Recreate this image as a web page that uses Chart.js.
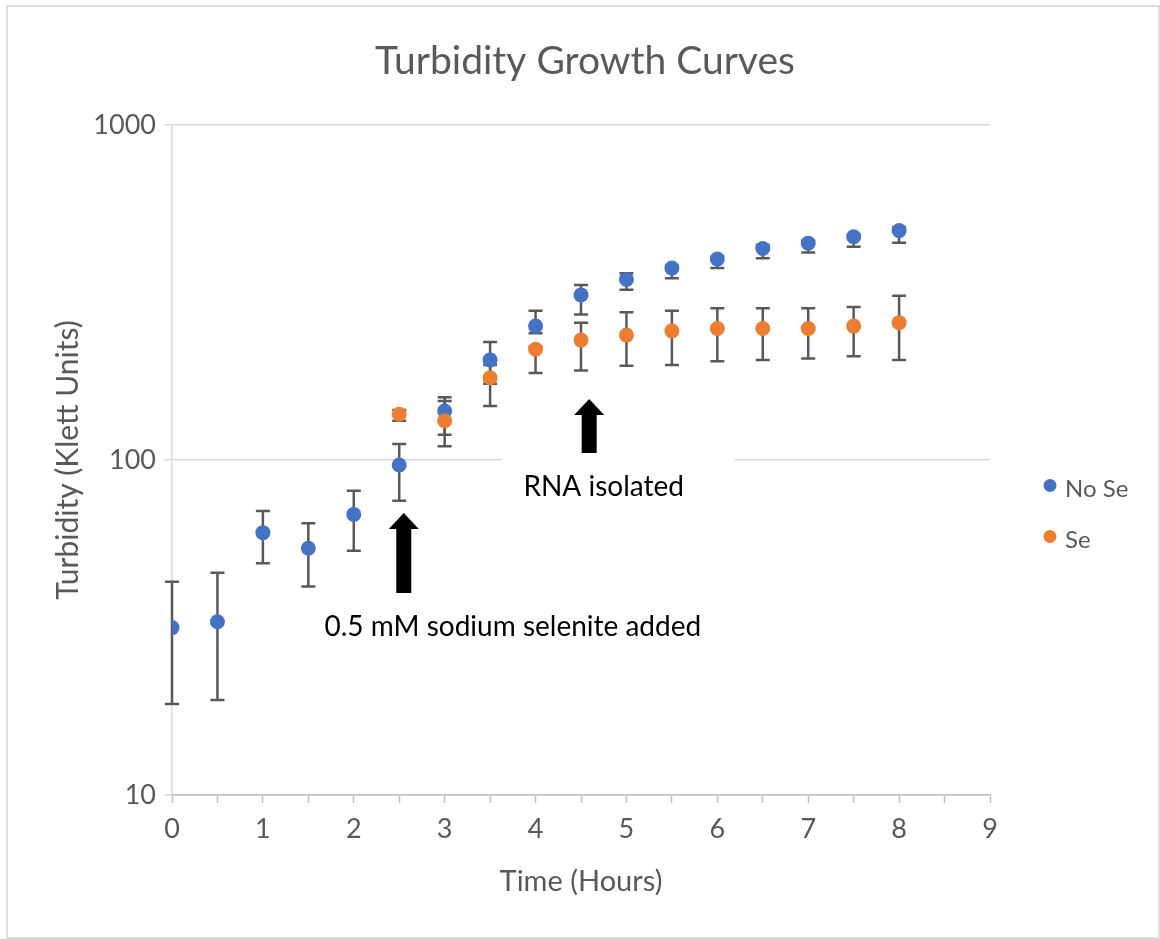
<!DOCTYPE html>
<html>
<head>
<meta charset="utf-8">
<script src="https://cdn.jsdelivr.net/npm/chart.js@4.4.1/dist/chart.umd.min.js"></script>
<style>
  html, body { margin: 0; padding: 0; background: #ffffff; }
  #wrap { position: relative; width: 1160px; height: 939px; }
  canvas { display: block; }
</style>
</head>
<body>
<div id="wrap"><canvas id="c" width="1160" height="939"></canvas></div>
<script>
// ---- data ----
const timesNoSe = [0, 0.5, 1, 1.5, 2, 2.5, 3, 3.5, 4, 4.5, 5, 5.5, 6, 6.5, 7, 7.5, 8];
const noSe      = [31.6, 32.9, 60.7, 54.5, 68.8, 96.6, 140, 199, 251, 311, 346, 374, 398, 428, 444, 464, 484];
const noSeHigh  = [43.3, 46.1, 70.4, 64.7, 81.0, 111.6, 154, 225, 279, 333, 361, 380, 405, 438, 451, 470, 495];
const noSeLow   = [18.7, 19.2, 49.2, 41.9, 53.6, 75.6, 119, 169, 239, 272, 322, 349, 374, 400, 416, 433, 445];

const timesSe = [2.5, 3, 3.5, 4, 4.5, 5, 5.5, 6, 6.5, 7, 7.5, 8];
const se      = [137, 131, 176, 214, 228, 236, 243, 247, 247, 247, 251, 257];
const seHigh  = [141, 150, 192, 218, 257, 276, 279, 284, 284, 284, 286, 309];
const seLow   = [131, 110, 145, 182, 185, 191, 192, 197, 199, 201, 204, 199];

const seriesNames = ['No Se', 'Se'];
const chartTitle = 'Turbidity Growth Curves';
const yTickValues = [10, 100, 1000];
const xTickLabels = ['0', '1', '2', '3', '4', '5', '6', '7', '8', '9'];

// annotations (in data units)
const arrowX    = [2.55, 4.59];
const arrowTip  = [69.5, 152];
const arrowBase = [40.1, 105];
const noteText  = ['0.5 mM sodium selenite added', 'RNA isolated'];
const noteX     = [3.75, 4.75];
const noteY     = [31.7, 83.2];
const labelBoxX = [3.63, 6.19];
const labelBoxY = [70, 103.5];

const FONT = 'Lato, "Open Sans", sans-serif';
const GREY_TEXT = '#595959';

function toPoints(xs, ys) { return xs.map((x, i) => ({ x: x, y: ys[i] })); }

const frame = {
  id: 'frame',
  beforeDraw(chart) {
    const ctx = chart.ctx;
    ctx.save();
    ctx.fillStyle = '#ffffff';
    ctx.fillRect(0, 0, chart.width, chart.height);
    ctx.strokeStyle = '#dedede';
    ctx.lineWidth = 2;
    ctx.strokeRect(7, 6, chart.width - 8, chart.height - 7);
    // chart title, centred on the whole chart
    ctx.fillStyle = GREY_TEXT;
    ctx.font = '39px ' + FONT;
    ctx.textAlign = 'center';
    ctx.textBaseline = 'middle';
    ctx.fillText(chartTitle, chart.width / 2 + 5, 61);
    ctx.restore();
  }
};

const errorBars = {
  id: 'errorBars',
  beforeDatasetsDraw(chart) {
    const ctx = chart.ctx;
    const xs = chart.scales.x, ys = chart.scales.y;
    // white box behind the "RNA isolated" label (hides gridline)
    ctx.save();
    ctx.fillStyle = '#ffffff';
    const bx0 = xs.getPixelForValue(labelBoxX[0]), bx1 = xs.getPixelForValue(labelBoxX[1]);
    const by0 = ys.getPixelForValue(labelBoxY[1]), by1 = ys.getPixelForValue(labelBoxY[0]);
    ctx.fillRect(bx0, by0, bx1 - bx0, by1 - by0);
    ctx.restore();

    ctx.save();
    ctx.strokeStyle = '#595959';
    ctx.lineWidth = 2.5;
    ctx.lineCap = 'butt';
    const cap = 7;
    chart.data.datasets.forEach((ds) => {
      ds.data.forEach((p, j) => {
        const x = xs.getPixelForValue(p.x);
        const yh = ys.getPixelForValue(ds.errHigh[j]);
        const yl = ys.getPixelForValue(ds.errLow[j]);
        ctx.beginPath();
        ctx.moveTo(x, yh); ctx.lineTo(x, yl);
        ctx.moveTo(x - cap, yh); ctx.lineTo(x + cap, yh);
        ctx.moveTo(x - cap, yl); ctx.lineTo(x + cap, yl);
        ctx.stroke();
      });
    });
    ctx.restore();
  }
};

const notes = {
  id: 'notes',
  afterDatasetsDraw(chart) {
    const ctx = chart.ctx;
    const xs = chart.scales.x, ys = chart.scales.y;
    ctx.save();
    ctx.fillStyle = '#000000';
    arrowX.forEach((ax, i) => {
      const cx = xs.getPixelForValue(ax);
      const tip = ys.getPixelForValue(arrowTip[i]);
      const base = ys.getPixelForValue(arrowBase[i]);
      const headH = 16, headW = 15, shaftW = 7.5;
      ctx.beginPath();
      ctx.moveTo(cx, tip);
      ctx.lineTo(cx + headW, tip + headH);
      ctx.lineTo(cx + shaftW, tip + headH);
      ctx.lineTo(cx + shaftW, base);
      ctx.lineTo(cx - shaftW, base);
      ctx.lineTo(cx - shaftW, tip + headH);
      ctx.lineTo(cx - headW, tip + headH);
      ctx.closePath();
      ctx.fill();
    });
    ctx.font = '28px ' + FONT;
    ctx.textAlign = 'center';
    ctx.textBaseline = 'middle';
    noteText.forEach((t, i) => {
      ctx.fillText(t, xs.getPixelForValue(noteX[i]), ys.getPixelForValue(noteY[i]));
    });
    ctx.restore();
  }
};

const sideLegend = {
  id: 'sideLegend',
  afterDraw(chart) {
    const ctx = chart.ctx;
    const a = chart.chartArea;
    const x0 = a.right + 60;
    const yMid = (a.top + a.bottom) / 2 + 55;
    const gap = 51;
    ctx.save();
    ctx.font = '24px ' + FONT;
    ctx.textBaseline = 'middle';
    ctx.textAlign = 'left';
    chart.data.datasets.forEach((ds, i) => {
      const y = yMid + (i - (chart.data.datasets.length - 1) / 2) * gap;
      ctx.fillStyle = ds.backgroundColor;
      ctx.beginPath();
      ctx.arc(x0, y - 4, 6.5, 0, Math.PI * 2);
      ctx.fill();
      ctx.fillStyle = GREY_TEXT;
      ctx.fillText(ds.label, x0 + 15, y);
    });
    ctx.restore();
  }
};

new Chart(document.getElementById('c'), {
  type: 'scatter',
  data: {
    datasets: [
      {
        label: seriesNames[0],
        data: toPoints(timesNoSe, noSe),
        errHigh: noSeHigh, errLow: noSeLow,
        backgroundColor: '#4472C4', borderColor: '#4472C4',
        pointRadius: 7.5, pointBorderWidth: 0, order: 1
      },
      {
        label: seriesNames[1],
        data: toPoints(timesSe, se),
        errHigh: seHigh, errLow: seLow,
        backgroundColor: '#ED7D31', borderColor: '#ED7D31',
        pointRadius: 7.5, pointBorderWidth: 0, order: 0
      }
    ]
  },
  options: {
    responsive: false,
    animation: false,
    layout: { padding: { left: 0, right: 170, top: 125, bottom: 0 } },
    plugins: {
      legend: { display: false },
      tooltip: { enabled: false },
      title: { display: false }
    },
    scales: {
      x: {
        type: 'linear',
        min: 0, max: 9,
        afterBuildTicks(scale) {
          const t = [];
          for (let v = 0; v <= 18; v++) t.push({ value: v / 2 });
          scale.ticks = t;
        },
        afterFit(scale) { scale.height = 144; },
        ticks: {
          color: GREY_TEXT,
          font: { family: FONT, size: 27 },
          padding: 10,
          maxRotation: 0,
          autoSkip: false,
          callback(v) { return Number.isInteger(v) ? xTickLabels[v] : ''; }
        },
        grid: { drawOnChartArea: false, drawTicks: true, tickLength: 8, tickColor: '#bfbfbf', tickWidth: 1.5 },
        border: { color: '#bfbfbf', width: 1.5 },
        title: {
          display: true, text: 'Time (Hours)', color: GREY_TEXT,
          font: { family: FONT, size: 29, lineHeight: 1.2 },
          padding: { top: 0, bottom: 40 }
        }
      },
      y: {
        type: 'logarithmic',
        min: 10, max: 1000,
        afterBuildTicks(scale) { scale.ticks = yTickValues.map(v => ({ value: v })); },
        afterFit(scale) { scale.width = 172; },
        ticks: {
          color: GREY_TEXT,
          font: { family: FONT, size: 27 },
          padding: 8,
          callback(v) { return String(v); }
        },
        grid: { color: '#d9d9d9', lineWidth: 1.5, tickLength: 8, tickColor: '#d9d9d9' },
        border: { color: '#d9d9d9', width: 1.5 },
        title: {
          display: true, text: 'Turbidity (Klett Units)', color: GREY_TEXT,
          font: { family: FONT, size: 30, lineHeight: 1.2 },
          padding: { top: 50, bottom: 0 }
        }
      }
    }
  },
  plugins: [frame, errorBars, notes, sideLegend]
});
</script>
</body>
</html>
